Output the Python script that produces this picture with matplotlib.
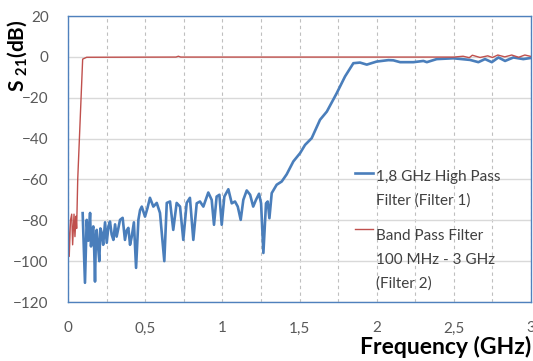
import numpy as np
import matplotlib
matplotlib.use('Agg')
import matplotlib.pyplot as plt
from matplotlib.ticker import MultipleLocator, FuncFormatter
from matplotlib.legend_handler import HandlerLine2D

# High pass filter (Filter 1)
hp_freq = [0.095, 0.110, 0.121, 0.132, 0.143, 0.149, 0.157, 0.164, 0.170, 0.175, 0.181, 0.186,
           0.195, 0.203, 0.210, 0.218, 0.228, 0.240, 0.251, 0.262, 0.272, 0.283, 0.294, 0.305,
           0.315, 0.326, 0.337, 0.354, 0.369, 0.380, 0.391, 0.402, 0.413, 0.427, 0.441, 0.456,
           0.467, 0.478, 0.499, 0.515, 0.531, 0.553, 0.575, 0.596, 0.624, 0.640, 0.661, 0.682,
           0.704, 0.726, 0.747, 0.769, 0.790, 0.812, 0.834, 0.855, 0.877, 0.909, 0.931, 0.946,
           0.963, 0.981, 0.996, 1.013, 1.039, 1.061, 1.082, 1.100, 1.119, 1.136, 1.158, 1.180,
           1.200, 1.218, 1.238, 1.251, 1.266, 1.283, 1.294, 1.305, 1.320, 1.352, 1.385, 1.417,
           1.460, 1.504, 1.536, 1.579, 1.633, 1.677, 1.741, 1.795, 1.849, 1.892, 1.936, 2.000,
           2.076, 2.108, 2.152, 2.238, 2.303, 2.325, 2.389, 2.497, 2.605, 2.659, 2.702, 2.746,
           2.789, 2.832, 2.886, 2.950, 2.994]
hp_db = [-76.5, -110.6, -79.8, -90.0, -76.4, -92.8, -85.0, -83.0, -95.0, -110.0, -88.0, -84.7,
         -93.0, -100.0, -84.0, -86.0, -92.0, -81.0, -91.0, -83.0, -80.6, -87.0, -89.6, -82.0,
         -88.0, -84.0, -79.8, -78.8, -89.6, -85.0, -83.7, -92.0, -88.0, -81.0, -103.3, -79.8,
         -75.0, -73.3, -78.2, -74.0, -69.0, -73.3, -71.5, -76.4, -100.0, -71.5, -70.8, -84.7,
         -71.5, -73.3, -89.6, -71.5, -69.0, -89.6, -71.7, -70.8, -73.3, -66.4, -70.0, -82.2,
         -68.4, -67.5, -82.2, -68.4, -64.8, -71.7, -70.8, -73.3, -79.8, -70.0, -65.4, -67.5,
         -73.3, -70.0, -67.0, -71.7, -96.0, -71.7, -70.8, -79.0, -66.7, -62.6, -61.0, -57.5,
         -51.2, -47.1, -43.1, -39.8, -30.8, -26.8, -17.8, -9.6, -3.1, -2.8, -3.8, -2.3,
         -1.6, -1.7, -2.6, -2.6, -2.0, -2.6, -1.1, -0.7, -1.5, -2.6, -1.1, -2.6,
         -0.3, -2.0, -0.3, -1.1, -0.6]

# Band pass filter (Filter 2)
bp_freq = [0.000, 0.008, 0.016, 0.024, 0.030, 0.039, 0.045, 0.052, 0.056, 0.063, 0.095, 0.121,
           0.700, 0.715, 0.730, 2.500, 2.560, 2.600, 2.620, 2.670, 2.720, 2.750, 2.785, 2.830,
           2.875, 2.920, 2.960, 3.000]
bp_db = [-74.0, -97.7, -80.0, -77.0, -92.0, -77.0, -88.0, -78.0, -84.0, -60.0, -1.1, -0.2,
         -0.1, 0.3, -0.1, -0.1, 0.3, -0.4, 0.8, -0.3, 0.5, -0.3, 0.9, 0.0,
         0.9, -0.2, 0.9, 0.2]

labels = ['1,8 GHz High Pass\nFilter (Filter 1)', 'Band Pass Filter\n100 MHz - 3 GHz\n(Filter 2)']

plt.rcParams['font.family'] = ['Lato', 'DejaVu Sans']
plt.rcParams['mathtext.fontset'] = 'custom'
plt.rcParams['mathtext.rm'] = 'Lato:bold'
plt.rcParams['mathtext.bf'] = 'Lato:bold'

LEG_FS = 11
LEG_LS = 1.85


class FirstLineHandler(HandlerLine2D):
    # put the legend key next to the first text line, like Excel does
    def __init__(self, nlines, **kw):
        super().__init__(**kw)
        self.nlines = nlines

    def create_artists(self, legend, orig_handle, xdescent, ydescent, width, height, fontsize, trans):
        arts = super().create_artists(legend, orig_handle, xdescent, ydescent, width, height, fontsize, trans)
        shift = (self.nlines - 1) * (0.5 * LEG_LS * 0.793 * fontsize + 0.3 * fontsize)
        for a in arts:
            a.set_ydata(np.asarray(a.get_ydata()) + shift)
        return arts


fig = plt.figure(figsize=(5.33, 3.61), dpi=100)
ax = fig.add_axes([68/533, 1 - 302/361, 463/533, 286/361])

l1, = ax.plot(hp_freq, hp_db, color='#4A7EBB', lw=1.9, label=labels[0])
l2, = ax.plot(bp_freq, bp_db, color='#C0504D', lw=1.0, label=labels[1])

ax.set_xlim(0, 3)
ax.set_ylim(-120, 20)
ax.xaxis.set_major_locator(MultipleLocator(0.5))
ax.xaxis.set_minor_locator(MultipleLocator(0.25))
ax.yaxis.set_major_locator(MultipleLocator(20))
ax.xaxis.set_major_formatter(FuncFormatter(lambda v, p: ('%g' % v).replace('.', ',')))

ax.grid(axis='y', which='major', color='#D9D9D9', lw=1, ls='-')
ax.grid(axis='x', which='both', color='#BFBFBF', lw=0.8, ls=(0, (3, 3)))
ax.set_axisbelow(True)

ax.tick_params(axis='both', which='both', length=0, labelsize=11, labelcolor='#595959')
ax.tick_params(axis='x', pad=14)
ax.tick_params(axis='y', pad=14)

for s in ax.spines.values():
    s.set_color('#4F81BD')
    s.set_linewidth(1)

ax.set_ylabel(r'S $_{\mathbf{21}}$(dB)', fontsize=15, fontweight='bold')
ax.yaxis.set_label_coords(-0.082, 0.862)
ax.set_xlabel('Frequency (GHz)', fontsize=16.5, fontweight='bold')
ax.xaxis.set_label_coords(1.0, -0.12)
ax.xaxis.label.set_horizontalalignment('right')

leg = ax.legend(handles=[l1, l2], loc='upper left', bbox_to_anchor=(355/533, 1 - 170/361),
                bbox_transform=fig.transFigure, frameon=False, fontsize=LEG_FS,
                handlelength=1.2, handletextpad=0.15, labelspacing=1.4, borderpad=0, borderaxespad=0,
                handler_map={l1: FirstLineHandler(2), l2: FirstLineHandler(3)})
for t in leg.get_texts():
    t.set_linespacing(LEG_LS)
    t.set_color('#404040')

fig.savefig('out.png', dpi=100)
